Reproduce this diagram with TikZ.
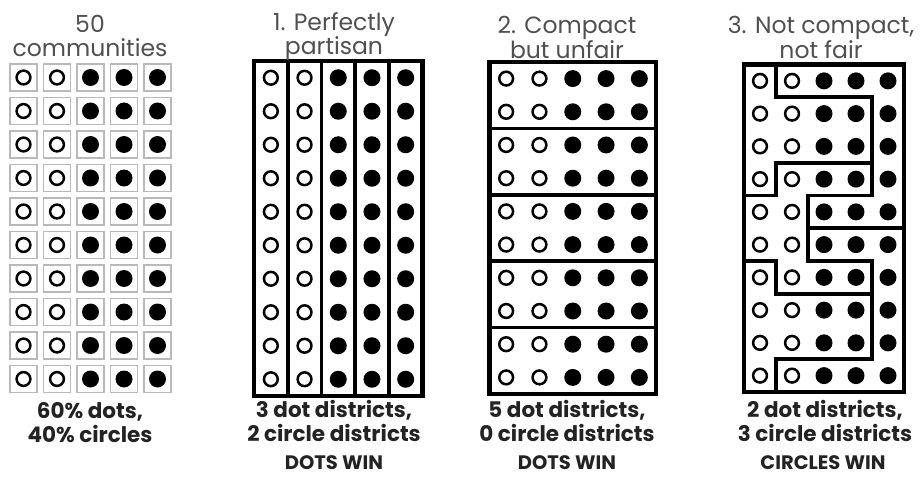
\documentclass[tikz,border=0pt]{standalone}
\usepackage{fontspec}
\setmainfont{Poppins}
\usetikzlibrary{positioning}
\definecolor{TitleGray}{RGB}{80,80,80}
\definecolor{LabelInk}{RGB}{35,35,35}
\definecolor{CellGray}{RGB}{185,185,185}

% 50 voters on a 5x10 grid, in cell units
\newcommand{\drawvoters}{%
  \foreach \r in {0,...,9}{%
    \foreach \c in {0,1}{\draw[hollowdot] (\c+0.5,\r+0.5) circle[radius=6.9pt];}
    \foreach \c in {2,3,4}{\fill (\c+0.5,\r+0.5) circle[radius=8.5pt];}
  }}

\begin{document}
\begin{tikzpicture}[x=1pt,y=-1pt,
  titletext/.style={align=center,inner sep=0pt,text=TitleGray,font=\fontsize{23.5}{24}\selectfont},
  statstext/.style={align=center,inner sep=0pt,text=LabelInk,font=\bfseries\fontsize{21.5}{24}\selectfont},
  verdicttext/.style={inner sep=0pt,text=LabelInk,font=\bfseries\fontsize{19.5}{19.5}\selectfont},
  hollowdot/.style={draw=black,line width=2.5pt},
  cellbox/.style={draw=CellGray,line width=1.5pt,fill=white},
  districtframe/.style={line width=4.5pt,line join=miter},
  districtline/.style={line width=3.6pt,line cap=rect}]
  \useasboundingbox[fill=white] (0,0) rectangle (923,481);

  % communities
  \begin{scope}[shift={(6.75,60.75)},x=33.5pt,y=-33.5pt]
    \foreach \c in {0,...,4}
      \foreach \r in {0,...,9}
        \draw[cellbox] (\c+0.5,\r+0.5) ++(-13.5pt,13.5pt) rectangle ++(27pt,-27pt);
    \drawvoters
  \end{scope}

  % 1. columns
  \begin{scope}[shift={(254,61)},x=33.7pt,y=-33.5pt]
    \drawvoters
    \foreach \c in {1,...,4}
      \draw[districtline] (\c,0) -- (\c,10);
    \draw[districtframe] (0,0) rectangle (5,10);
  \end{scope}

  % 2. rows
  \begin{scope}[shift={(489.5,62)},x=33.3pt,y=-33.2pt]
    \drawvoters
    \foreach \r in {2,4,6,8}
      \draw[districtline] (0,\r) -- (5,\r);
    \draw[districtframe] (0,0) rectangle (5,10);
  \end{scope}

  % 3. gerrymander
  \begin{scope}[shift={(744,64.5)},x=32pt,y=-32.75pt]
    \drawvoters
    \draw[districtline] (1,0) -- (1,1) -- (4,1) -- (4,4) -- (2,4) -- (2,6) -- (4,6) -- (4,9) -- (1,9) -- (1,10);
    \draw[districtline] (4,3) -- (1,3) -- (1,4) -- (0,4);
    \draw[districtline] (2,5) -- (5,5);
    \draw[districtline] (0,6) -- (1,6) -- (1,7) -- (4,7);
    \draw[districtframe] (0,0) rectangle (5,10);
  \end{scope}

  \node[titletext] (titleAll) at (90,36) {50\\communities};
  \node[titletext] (titleCols) at (334,37) {1. Perfectly\\partisan};
  \node[titletext] (titleRows) at (567,37) {2. Compact\\but unfair};
  \node[titletext] (titleMess) at (821,37) {3. Not compact,\\not fair};

  \node[statstext] (statsAll) at (90,423) {60\% dots,\\40\% circles};
  \node[statstext] (statsCols) at (334,421) {3 dot districts,\\2 circle districts};
  \node[statstext] (statsRows) at (567,421) {5 dot districts,\\0 circle districts};
  \node[statstext] (statsMess) at (825,421) {2 dot districts,\\3 circle districts};

  \node[verdicttext] (winCols) at (334,463) {DOTS WIN};
  \node[verdicttext] (winRows) at (567,463) {DOTS WIN};
  \node[verdicttext] (winMess) at (823,463) {CIRCLES WIN};
\end{tikzpicture}
\end{document}
